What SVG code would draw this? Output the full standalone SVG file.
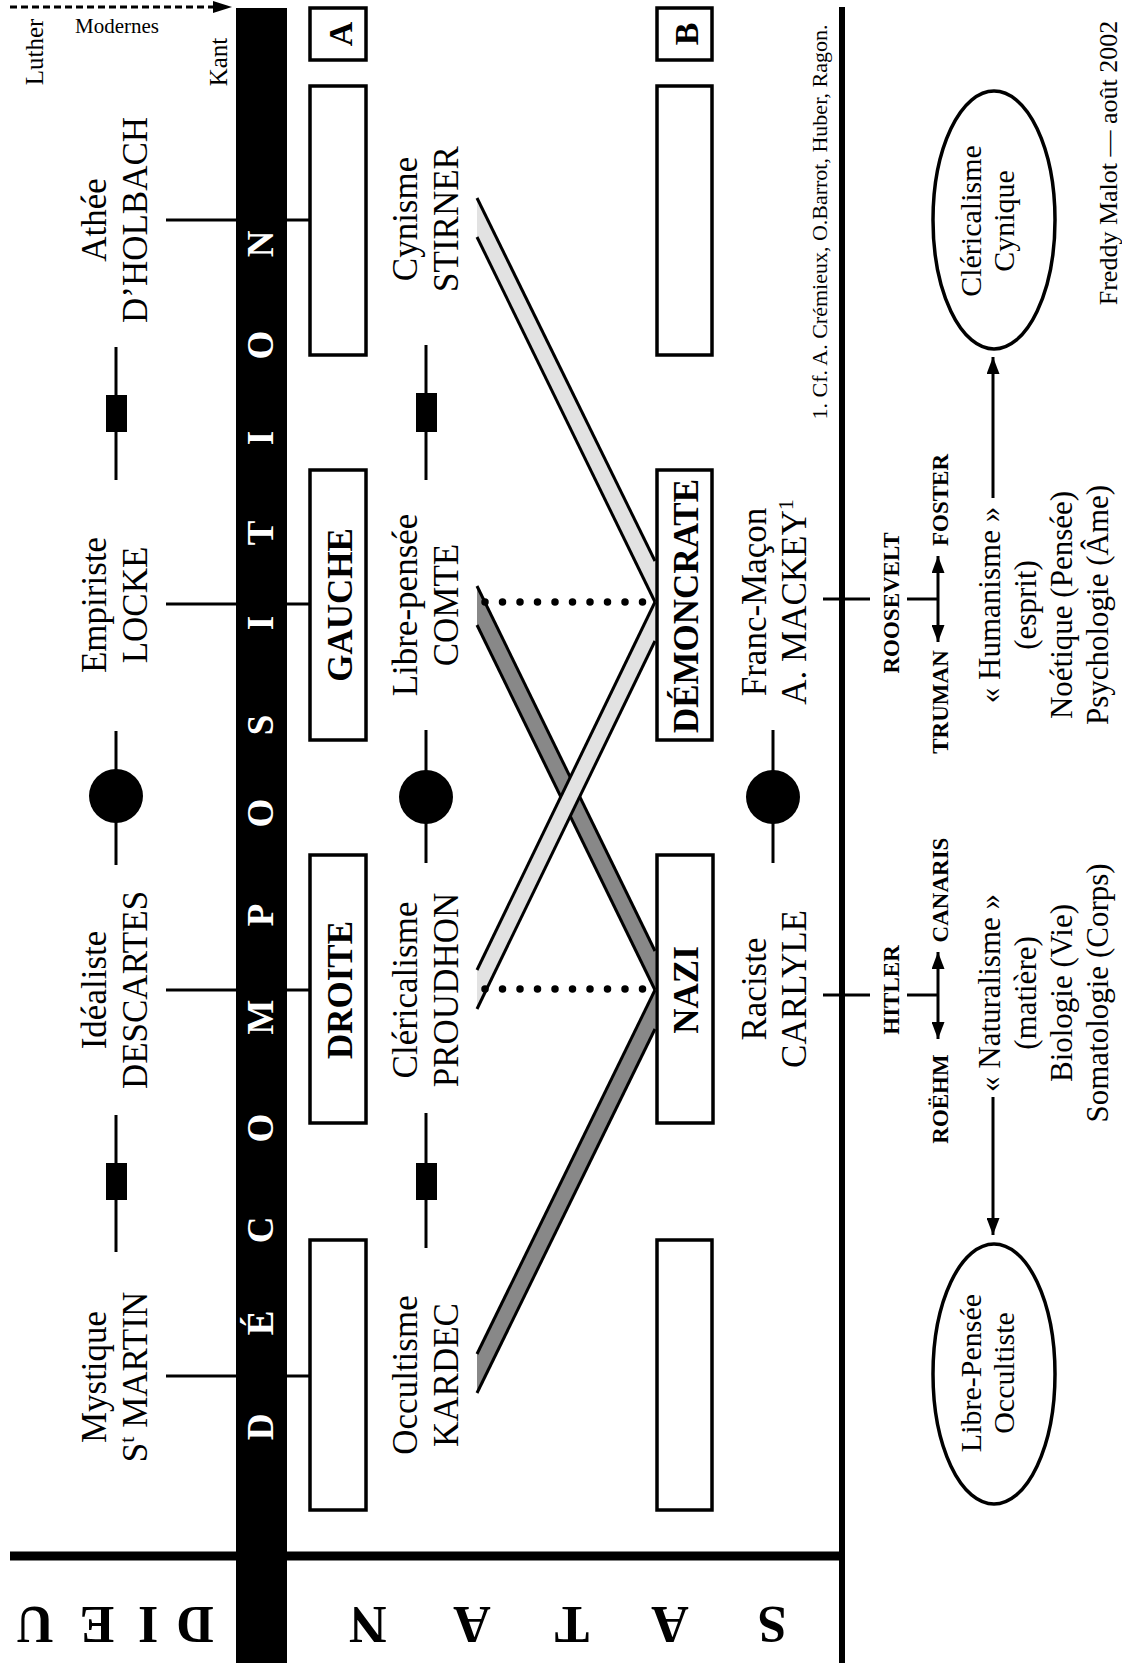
<svg xmlns="http://www.w3.org/2000/svg" width="1122" height="1663" viewBox="0 0 1122 1663">
<defs>
<style>
.t{font-family:"Liberation Serif","Times New Roman",serif;font-size:35px;fill:#000}
.b{font-weight:bold}
.box{fill:#fff;stroke:#000;stroke-width:3.5}
.ell{fill:#fff;stroke:#000;stroke-width:3.5}
.ln{stroke:#000;stroke-width:3;fill:none}
.edge{stroke:#000;stroke-width:3;fill:none}
.dots{stroke:#000;stroke-width:7.5;stroke-linecap:round;stroke-dasharray:0 17.5;fill:none}
.light{fill:#e2e2e2}
.dark{fill:#888888}
</style>
<marker id="ah" viewBox="0 0 17 13" refX="17" refY="6.5" markerWidth="17" markerHeight="13" markerUnits="userSpaceOnUse" orient="auto-start-reverse"><path d="M0,0 L17,6.5 L0,13 z" fill="#000"/></marker>
</defs>
<rect width="1122" height="1663" fill="#fff"/>

<!-- frame -->
<g id="frame">
<rect x="236" y="8" width="51" height="1655" fill="#000"/>
<line x1="10" y1="1556" x2="845" y2="1556" stroke="#000" stroke-width="9"/>
<line x1="842" y1="7" x2="842" y2="1663" stroke="#000" stroke-width="6"/>
<text class="t b" style="fill:#fff;font-size:37px" text-anchor="middle" transform="translate(273,0) rotate(-90)" x="-1427 -1323 -1230 -1128 -1017 -915 -813 -725 -623 -533 -438 -345 -244" y="0">DÉCOMPOSITION</text>
<text class="t b" style="font-size:52px" text-anchor="middle" transform="translate(0,1607) rotate(180)" x="-195 -148 -97 -35" y="0">DIEU</text>
<text class="t b" style="font-size:52px" text-anchor="middle" transform="translate(0,1607) rotate(180)" x="-772 -670 -572 -472 -368" y="0">SATAN</text>
</g>

<!-- connectors -->
<g id="connectors">
<line class="ln" x1="10" y1="7" x2="214" y2="7" stroke-dasharray="7 4"/>
<polygon points="213,1 232,7 213,13" fill="#000"/>
<!-- column 1 -->
<line class="ln" x1="166" y1="220" x2="310" y2="220"/>
<line class="ln" x1="166" y1="604" x2="310" y2="604"/>
<line class="ln" x1="166" y1="990" x2="310" y2="990"/>
<line class="ln" x1="166" y1="1376" x2="310" y2="1376"/>
<line class="ln" x1="116" y1="347" x2="116" y2="480"/>
<rect x="106" y="395" width="21" height="37" fill="#000"/>
<line class="ln" x1="116" y1="731" x2="116" y2="865"/>
<circle cx="116" cy="796" r="27" fill="#000"/>
<line class="ln" x1="116" y1="1115" x2="116" y2="1252"/>
<rect x="106" y="1163" width="21" height="37" fill="#000"/>
<!-- column 2 -->
<line class="ln" x1="426" y1="345" x2="426" y2="480"/>
<rect x="416" y="393" width="21" height="39" fill="#000"/>
<line class="ln" x1="426" y1="730" x2="426" y2="863"/>
<circle cx="426" cy="797" r="27" fill="#000"/>
<line class="ln" x1="426" y1="1113" x2="426" y2="1248"/>
<rect x="416" y="1163" width="21" height="37" fill="#000"/>
<!-- column 3 -->
<line class="ln" x1="773" y1="730" x2="773" y2="863"/>
<circle cx="773" cy="797" r="27" fill="#000"/>
<line class="ln" x1="823" y1="599" x2="870" y2="599"/>
<line class="ln" x1="907" y1="599" x2="938" y2="599"/>
<line class="ln" x1="938" y1="556" x2="938" y2="642" marker-start="url(#ah)" marker-end="url(#ah)"/>
<line class="ln" x1="823" y1="995" x2="870" y2="995"/>
<line class="ln" x1="907" y1="995" x2="938" y2="995"/>
<line class="ln" x1="938" y1="952" x2="938" y2="1039" marker-start="url(#ah)" marker-end="url(#ah)"/>
<line class="ln" x1="993" y1="498" x2="993" y2="357" marker-end="url(#ah)"/>
<line class="ln" x1="993" y1="1097" x2="993" y2="1235" marker-end="url(#ah)"/>
<!-- bands -->
<polygon class="dark" points="477,586 655,951 655,990 477,625"/>
<polygon class="dark" points="655,990 655,1029 477,1393 477,1354"/>
<line class="edge" x1="477" y1="586" x2="655" y2="951"/>
<line class="edge" x1="477" y1="625" x2="655" y2="990"/>
<line class="edge" x1="655" y1="990" x2="477" y2="1354"/>
<line class="edge" x1="655" y1="1029" x2="477" y2="1393"/>
<polygon class="light" points="477,198 655,561 655,602 477,237"/>
<polygon class="light" points="655,602 655,641 477,1009 477,970"/>
<line class="edge" x1="477" y1="198" x2="655" y2="561"/>
<line class="edge" x1="477" y1="237" x2="655" y2="602"/>
<line class="edge" x1="655" y1="602" x2="477" y2="970"/>
<line class="edge" x1="655" y1="641" x2="477" y2="1009"/>
<line class="dots" x1="485" y1="602" x2="645" y2="602"/>
<line class="dots" x1="485" y1="989" x2="645" y2="989"/>
</g>

<!-- header labels -->
<g id="n-luther"><text class="t" style="font-size:25px" text-anchor="middle" transform="translate(43,52) rotate(-90)">Luther</text></g>
<g id="n-modernes"><text class="t" style="font-size:21px" x="75" y="33">Modernes</text></g>
<g id="n-kant"><text class="t" style="font-size:25px" text-anchor="middle" transform="translate(227,62) rotate(-90)">Kant</text></g>

<!-- column 1 -->
<g id="n-holbach"><text class="t" text-anchor="middle" transform="translate(106,220) rotate(-90)"><tspan x="0" y="0">Athée</tspan><tspan x="0" y="41">D’HOLBACH</tspan></text></g>
<g id="n-locke"><text class="t" text-anchor="middle" transform="translate(106,605) rotate(-90)"><tspan x="0" y="0">Empiriste</tspan><tspan x="0" y="41">LOCKE</tspan></text></g>
<g id="n-descartes"><text class="t" text-anchor="middle" transform="translate(106,990) rotate(-90)"><tspan x="0" y="0">Idéaliste</tspan><tspan x="0" y="41">DESCARTES</tspan></text></g>
<g id="n-martin"><text class="t" text-anchor="middle" transform="translate(106,1377) rotate(-90)"><tspan x="0" y="0">Mystique</tspan><tspan x="0" y="41">S<tspan dy="-13" style="font-size:22px">t</tspan><tspan dy="13"> MARTIN</tspan></tspan></text></g>

<!-- boxes left -->
<g id="n-A"><rect class="box" x="310" y="8" width="56" height="52"/><text class="t b" style="font-size:34px" text-anchor="middle" transform="translate(352,34) rotate(-90)">A</text></g>
<g id="n-box1"><rect class="box" x="310" y="86" width="56" height="269"/></g>
<g id="n-gauche"><rect class="box" x="310" y="470" width="56" height="270"/><text class="t b" text-anchor="middle" transform="translate(352,605) rotate(-90)">GAUCHE</text></g>
<g id="n-droite"><rect class="box" x="310" y="855" width="56" height="268"/><text class="t b" text-anchor="middle" transform="translate(352,990) rotate(-90)">DROITE</text></g>
<g id="n-box4"><rect class="box" x="310" y="1240" width="56" height="270"/></g>

<!-- column 2 -->
<g id="n-stirner"><text class="t" text-anchor="middle" transform="translate(417,219) rotate(-90)"><tspan x="0" y="0">Cynisme</tspan><tspan x="0" y="41">STIRNER</tspan></text></g>
<g id="n-comte"><text class="t" text-anchor="middle" transform="translate(417,605) rotate(-90)"><tspan x="0" y="0">Libre-pensée</tspan><tspan x="0" y="41">COMTE</tspan></text></g>
<g id="n-proudhon"><text class="t" text-anchor="middle" transform="translate(417,990) rotate(-90)"><tspan x="0" y="0">Cléricalisme</tspan><tspan x="0" y="41">PROUDHON</tspan></text></g>
<g id="n-kardec"><text class="t" text-anchor="middle" transform="translate(417,1375) rotate(-90)"><tspan x="0" y="0">Occultisme</tspan><tspan x="0" y="41">KARDEC</tspan></text></g>

<!-- boxes right -->
<g id="n-B"><rect class="box" x="657" y="8" width="55" height="52"/><text class="t b" style="font-size:34px" text-anchor="middle" transform="translate(698,34) rotate(-90)">B</text></g>
<g id="n-box5"><rect class="box" x="657" y="86" width="55" height="269"/></g>
<g id="n-democrate"><rect class="box" x="657" y="470" width="55" height="270"/><text class="t b" text-anchor="middle" transform="translate(698,606) rotate(-90)">DÉMONCRATE</text></g>
<g id="n-nazi"><rect class="box" x="657" y="855" width="56" height="268"/><text class="t b" text-anchor="middle" transform="translate(698,990) rotate(-90)">NAZI</text></g>
<g id="n-box8"><rect class="box" x="657" y="1240" width="55" height="270"/></g>

<!-- column 3 -->
<g id="n-mackey"><text class="t" text-anchor="middle" transform="translate(766,602) rotate(-90)"><tspan x="0" y="0">Franc-Maçon</tspan><tspan x="0" y="40">A. MACKEY<tspan dy="-13" style="font-size:22px">1</tspan></tspan></text></g>
<g id="n-carlyle"><text class="t" text-anchor="middle" transform="translate(766,989) rotate(-90)"><tspan x="0" y="0">Raciste</tspan><tspan x="0" y="40">CARLYLE</tspan></text></g>
<g id="n-footnote"><text class="t" style="font-size:22px" text-anchor="middle" transform="translate(827,222) rotate(-90)">1. Cf. A. Crémieux, O.Barrot, Huber, Ragon.</text></g>

<!-- leaders -->
<g id="n-roosevelt"><text class="t b" style="font-size:23px" text-anchor="middle" transform="translate(899,603) rotate(-90)">ROOSEVELT</text></g>
<g id="n-truman"><text class="t b" style="font-size:23px" text-anchor="middle" transform="translate(948,702) rotate(-90)">TRUMAN</text></g>
<g id="n-foster"><text class="t b" style="font-size:23px" text-anchor="middle" transform="translate(948,500) rotate(-90)">FOSTER</text></g>
<g id="n-hitler"><text class="t b" style="font-size:23px" text-anchor="middle" transform="translate(899,990) rotate(-90)">HITLER</text></g>
<g id="n-canaris"><text class="t b" style="font-size:23px" text-anchor="middle" transform="translate(948,890) rotate(-90)">CANARIS</text></g>
<g id="n-roehm"><text class="t b" style="font-size:23px" text-anchor="middle" transform="translate(948,1099) rotate(-90)">ROËHM</text></g>

<!-- doctrines -->
<g id="n-humanisme"><text class="t" style="font-size:31px" text-anchor="middle" transform="translate(1000,605) rotate(-90)"><tspan x="0" y="0">« Humanisme »</tspan><tspan x="0" y="36">(esprit)</tspan><tspan x="0" y="72">Noétique (Pensée)</tspan><tspan x="0" y="108">Psychologie (Âme)</tspan></text></g>
<g id="n-naturalisme"><text class="t" style="font-size:31px" text-anchor="middle" transform="translate(1000,993) rotate(-90)"><tspan x="0" y="0">« Naturalisme »</tspan><tspan x="0" y="36">(matière)</tspan><tspan x="0" y="72">Biologie (Vie)</tspan><tspan x="0" y="108">Somatologie (Corps)</tspan></text></g>
<g id="n-cynique"><ellipse class="ell" cx="994" cy="220" rx="61" ry="129"/><text class="t" style="font-size:30px" text-anchor="middle" transform="translate(981,221) rotate(-90)"><tspan x="0" y="0">Cléricalisme</tspan><tspan x="0" y="33">Cynique</tspan></text></g>
<g id="n-occultiste"><ellipse class="ell" cx="994" cy="1374" rx="61" ry="130"/><text class="t" style="font-size:30px" text-anchor="middle" transform="translate(981,1373) rotate(-90)"><tspan x="0" y="0">Libre-Pensée</tspan><tspan x="0" y="33">Occultiste</tspan></text></g>
<g id="n-signature"><text class="t" style="font-size:26px" text-anchor="middle" transform="translate(1117,163) rotate(-90)">Freddy Malot — août 2002</text></g>
</svg>
